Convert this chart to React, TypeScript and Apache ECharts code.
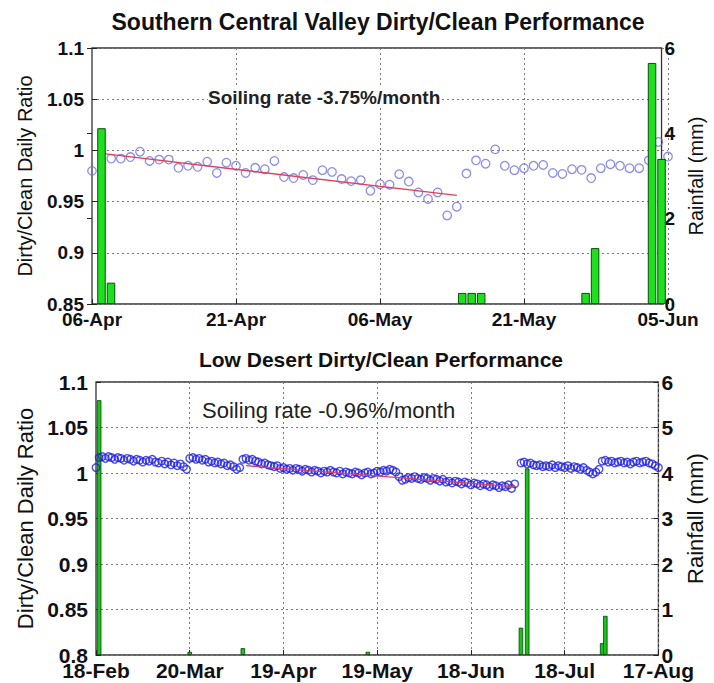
import React, { useEffect, useRef } from "react";
import * as echarts from "echarts";

// ---------- texts ----------
const topTitle = "Southern Central Valley Dirty/Clean Performance";
const bottomTitle = "Low Desert Dirty/Clean Performance";
const topRateText = "Soiling rate -3.75%/month";
const bottomRateText = "Soiling rate -0.96%/month";
const ratioName = "Dirty/Clean Daily Ratio";
const rainName = "Rainfall (mm)";

// ---------- tick labels ----------
const topXTickLabels = ["06-Apr", "21-Apr", "06-May", "21-May", "05-Jun"];
const bottomXTickLabels = ["18-Feb", "20-Mar", "19-Apr", "19-May", "18-Jun", "18-Jul", "17-Aug"];

// ---------- top panel (days since 06-Apr) ----------
const topRatioDays = [
  0, 2, 3, 4, 5, 6, 7, 8, 9, 10, 11, 12, 13, 14, 15, 16, 17, 18, 19, 20,
  21, 22, 23, 24, 25, 26, 27, 28, 29, 30, 31, 32, 33, 34, 35, 36, 37, 38, 39, 40,
  41, 42, 43, 44, 45, 46, 47, 48, 49, 50, 51, 52, 53, 54, 55, 56, 57, 58, 59, 60,
];
const topRatio = [
  0.98, 0.992, 0.992, 0.9935, 0.9987, 0.9897, 0.991, 0.991, 0.983, 0.985,
  0.984, 0.989, 0.978, 0.988, 0.985, 0.978, 0.983, 0.9816, 0.9897, 0.974,
  0.973, 0.976, 0.971, 0.9807, 0.979, 0.972, 0.97, 0.971, 0.9606, 0.967,
  0.9665, 0.9768, 0.9696, 0.959, 0.9526, 0.959, 0.9365, 0.945, 0.9774, 0.9903,
  0.987, 1.001, 0.985, 0.9807, 0.9826, 0.985, 0.9858, 0.978, 0.977, 0.9816,
  0.981, 0.973, 0.9826, 0.9865, 0.985, 0.9826, 0.9826, 0.9903, 1.0083, 0.994,
];
const topTrendDays = [1, 38];
const topTrend = [0.997, 0.956];
const topRainDays = [1, 2, 39, 40, 41, 52, 53, 59, 60];
const topRain = [4.12, 0.5, 0.26, 0.26, 0.26, 0.26, 1.31, 5.65, 3.4];

// ---------- bottom panel (days since 18-Feb) ----------
const bottomRatioStartA = 0;
const bottomRatioA = [
  1.006,
  1.017, 1.018, 1.016, 1.018, 1.017, 1.015, 1.017, 1.016, 1.014, 1.016,
  1.015, 1.013, 1.015, 1.014, 1.012, 1.014, 1.013, 1.015, 1.012, 1.011,
  1.013, 1.01, 1.012, 1.009, 1.011, 1.008, 1.01, 1.007, 1.004,
  1.016, 1.017, 1.015, 1.016, 1.014, 1.015, 1.012, 1.013, 1.011, 1.012,
  1.01, 1.011, 1.008, 1.009, 1.007, 1.004, 1.006,
  1.015, 1.016, 1.014, 1.015, 1.013, 1.012, 1.01, 1.011, 1.009, 1.008,
  1.007, 1.008, 1.005, 1.006, 1.004, 1.005, 1.003, 1.005, 1.004, 1.002,
  1.004, 1.003, 1.001, 1.003, 1.002, 1.0, 1.002, 1.001, 1.003, 1.001,
  1.0, 1.002, 0.999, 1.001, 1.0, 0.999, 1.001, 1.0, 0.998, 1.0,
  1.001, 0.999, 1.0, 1.002, 1.001, 1.003, 1.002, 1.004, 1.003, 1.001,
  0.996, 0.992, 0.993, 0.995, 0.994, 0.996, 0.994, 0.993, 0.995, 0.994,
  0.992, 0.994, 0.993, 0.991, 0.993, 0.99, 0.991, 0.989, 0.991, 0.99,
  0.988, 0.99, 0.989, 0.987, 0.989, 0.988, 0.986, 0.988, 0.987, 0.985,
  0.987, 0.986, 0.984, 0.986, 0.985, 0.987, 0.983, 0.988,
];
const bottomRatioStartB = 136;
const bottomRatioB = [
  1.011, 1.012, 1.01, 1.011, 1.009, 1.008, 1.009, 1.007, 1.008, 1.007,
  1.009, 1.006, 1.008, 1.007, 1.006, 1.008, 1.005, 1.007, 1.006, 1.004,
  1.006, 1.003, 1.001, 0.999, 1.001, 1.004,
  1.013, 1.014, 1.012, 1.013, 1.011, 1.012, 1.013, 1.011, 1.012, 1.01,
  1.012, 1.013, 1.011, 1.012, 1.013, 1.011, 1.01, 1.008, 1.006,
];
const bottomTrendDays = [48, 134];
const bottomTrend = [1.008, 0.985];
const bottomRainDays = [1, 30, 47, 87, 136, 138, 162, 163];
const bottomRain = [5.6, 0.07, 0.15, 0.07, 0.6, 4.1, 0.26, 0.86];

const FONT = "'Liberation Sans', Arial, Helvetica, sans-serif";
const DOT = { color: "#7a7a7a", type: [2, 3] as number[], width: 1 };

function pairs(xs: number[], ys: number[]) {
  return xs.map((x, i) => [x, ys[i]]);
}
function run(start: number, ys: number[]) {
  return ys.map((y, i) => [start + i, y]);
}

export default function App() {
  const ref = useRef<HTMLDivElement>(null);
  useEffect(() => {
    document.body.style.margin = "0";
    if (!ref.current) return;
    const chart = echarts.init(ref.current, undefined, { renderer: "svg" });

    const tickLabel = (size: number) => ({
      fontFamily: FONT,
      fontSize: size,
      fontWeight: "bold" as const,
      color: "#111",
      lineHeight: Math.round(size * 0.75),
    });
    const tick = { show: true, inside: true, length: 5, lineStyle: { color: "#222", width: 1 } };

    const option: any = {
      animation: false,
      backgroundColor: "#ffffff",
      textStyle: { fontFamily: FONT },
      grid: [
        { left: 92, top: 48, width: 576, height: 256, show: false, containLabel: false },
        {
          left: 92, top: 48, width: 582, height: 256, show: true,
          borderColor: "#333", borderWidth: 1.3, backgroundColor: "transparent",
        },
        {
          left: 96, top: 382, width: 574, height: 273, show: true,
          borderColor: "#333", borderWidth: 1.3, backgroundColor: "transparent",
        },
      ],
      xAxis: [
        {
          gridIndex: 0, type: "value", min: 0, max: 60, interval: 15,
          axisLine: { show: false }, axisTick: tick,
          axisLabel: {
            ...tickLabel(19), margin: 8,
            formatter: (v: number) => topXTickLabels[Math.round(v / 15)] ?? "",
          },
          splitLine: { show: true, lineStyle: DOT },
        },
        { gridIndex: 1, type: "value", min: 0, max: 60, show: false },
        {
          gridIndex: 2, type: "value", min: 0, max: 180, interval: 30,
          axisLine: { show: false }, axisTick: tick,
          axisLabel: {
            ...tickLabel(21), margin: 7,
            formatter: (v: number) => bottomXTickLabels[Math.round(v / 30)] ?? "",
          },
          splitLine: { show: true, lineStyle: DOT },
        },
      ],
      yAxis: [
        {
          gridIndex: 0, type: "value", min: 0.85, max: 1.1, interval: 0.05,
          axisLine: { show: false }, axisTick: tick,
          axisLabel: { ...tickLabel(19), margin: 8 },
          splitLine: { show: true, lineStyle: DOT },
          name: ratioName, nameLocation: "middle", nameGap: 57, nameRotate: 90,
          nameTextStyle: { fontFamily: FONT, fontSize: 20, color: "#111" },
        },
        {
          gridIndex: 1, type: "value", position: "right", min: 0, max: 6, interval: 2,
          axisLine: { show: false }, axisTick: tick,
          axisLabel: { ...tickLabel(19), margin: 3 },
          splitLine: { show: false },
          name: rainName, nameLocation: "middle", nameGap: 20, nameRotate: 90,
          nameTextStyle: { fontFamily: FONT, fontSize: 20, color: "#111", padding: [0, 0, 12, 0] },
        },
        {
          gridIndex: 2, type: "value", min: 0.8, max: 1.1, interval: 0.05,
          axisLine: { show: false }, axisTick: tick,
          axisLabel: { ...tickLabel(21), margin: 8 },
          splitLine: { show: true, lineStyle: DOT },
          name: ratioName, nameLocation: "middle", nameGap: 60, nameRotate: 90,
          nameTextStyle: { fontFamily: FONT, fontSize: 22, color: "#111" },
        },
        {
          gridIndex: 2, type: "value", position: "right", min: 0, max: 6, interval: 1,
          axisLine: { show: false }, axisTick: tick,
          axisLabel: { ...tickLabel(21), margin: 3 },
          splitLine: { show: false },
          name: rainName, nameLocation: "middle", nameGap: 22, nameRotate: 90,
          nameTextStyle: { fontFamily: FONT, fontSize: 22, color: "#111", padding: [0, 0, 16, 0] },
        },
      ],
      series: [
        {
          type: "scatter", xAxisIndex: 0, yAxisIndex: 0, z: 2,
          symbol: "circle", symbolSize: 8.5,
          itemStyle: { color: "transparent", borderColor: "#6e6ee4", borderWidth: 1.3 },
          data: pairs(topRatioDays, topRatio),
        },
        {
          type: "line", xAxisIndex: 0, yAxisIndex: 0, z: 3, symbol: "none",
          lineStyle: { color: "#e0405a", width: 1.3 },
          data: pairs(topTrendDays, topTrend),
        },
        {
          type: "bar", xAxisIndex: 1, yAxisIndex: 1, z: 4, barWidth: 8.5,
          itemStyle: { color: "#1ee01e", borderColor: "#0b4d0b", borderWidth: 1 },
          data: pairs(topRainDays, topRain),
        },
        {
          type: "bar", xAxisIndex: 2, yAxisIndex: 3, z: 2, barWidth: 4.5,
          itemStyle: { color: "#18c418", borderColor: "#0d3d0d", borderWidth: 0.8 },
          data: pairs(bottomRainDays, bottomRain),
        },
        {
          type: "scatter", xAxisIndex: 2, yAxisIndex: 2, z: 3,
          symbol: "circle", symbolSize: 7.5,
          itemStyle: { color: "transparent", borderColor: "#2020e4", borderWidth: 1.4 },
          data: run(bottomRatioStartA, bottomRatioA),
        },
        {
          type: "scatter", xAxisIndex: 2, yAxisIndex: 2, z: 3,
          symbol: "circle", symbolSize: 7.5,
          itemStyle: { color: "transparent", borderColor: "#2020e4", borderWidth: 1.4 },
          data: run(bottomRatioStartB, bottomRatioB),
        },
        {
          type: "line", xAxisIndex: 2, yAxisIndex: 2, z: 4, symbol: "none",
          lineStyle: { color: "#e0405a", width: 1.3 },
          data: pairs(bottomTrendDays, bottomTrend),
        },
      ],
      graphic: [
        {
          type: "text", x: 378, y: 22, z: 10,
          style: {
            text: topTitle, fontFamily: FONT, fontSize: 23, fontWeight: "bold",
            fill: "#111", align: "center", verticalAlign: "middle",
          },
        },
        {
          type: "text", x: 381, y: 359, z: 10,
          style: {
            text: bottomTitle, fontFamily: FONT, fontSize: 21, fontWeight: "bold",
            fill: "#111", align: "center", verticalAlign: "middle",
          },
        },
        {
          type: "text", x: 208, y: 97, z: 10,
          style: {
            text: topRateText, fontFamily: FONT, fontSize: 19, fontWeight: "bold",
            fill: "#222", align: "left", verticalAlign: "middle",
            backgroundColor: "#ffffff",
          },
        },
        {
          type: "text", x: 202, y: 410, z: 10,
          style: {
            text: bottomRateText, fontFamily: FONT, fontSize: 22,
            fill: "#222", align: "left", verticalAlign: "middle",
          },
        },
      ],
    };

    chart.setOption(option);
    return () => chart.dispose();
  }, []);

  return <div ref={ref} style={{ width: 714, height: 683 }} />;
}
